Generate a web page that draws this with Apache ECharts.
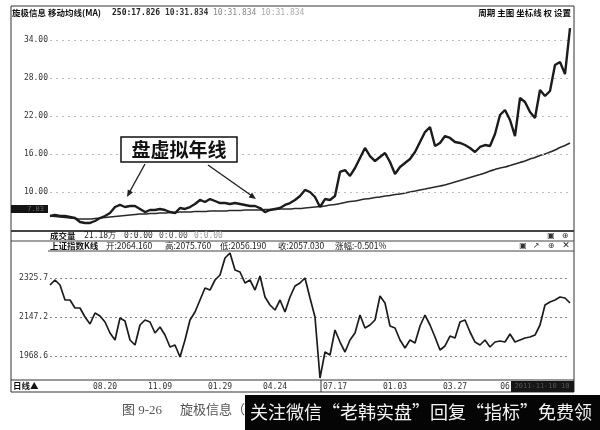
<!DOCTYPE html>
<html><head><meta charset="utf-8">
<script src="https://cdn.jsdelivr.net/npm/echarts@6/dist/echarts.min.js"></script>
<style>html,body{margin:0;padding:0;background:#fff}#c{width:600px;height:430px}</style>
</head><body><div id="c"></div>
<script>
// 旋极信息 日线收盘价
const priceValues = [6.21,6.37,6.21,6.21,6.05,5.89,5.26,5.11,5.11,5.42,
5.89,6.21,6.68,7.63,7.95,7.63,7.79,7.79,7.32,6.84,
7.16,7.16,7.32,7.16,6.84,6.68,7.47,7.32,7.63,8.11,
8.74,8.42,8.89,8.58,8.26,8.26,8.11,8.26,8.11,7.95,
7.79,7.79,7.47,6.84,7.16,7.32,7.47,7.95,8.26,8.74,
9.37,10.32,10.00,9.21,7.63,8.89,8.74,9.37,13.16,13.47,
12.53,13.79,15.37,16.95,15.68,14.89,15.53,16.16,14.74,12.84,
13.95,14.58,15.21,16.32,17.89,19.47,20.26,17.26,17.74,18.84,
18.53,17.89,17.74,17.42,16.95,16.32,17.11,17.42,17.26,19.16,
22.16,22.95,21.37,18.84,24.84,24.21,22.63,21.68,26.11,25.16,
25.95,30.05,30.53,28.63,35.89];
// 250日均线（虚拟年线，读图估计）
const ma250Values = [6.21,6.13,6.05,5.97,5.89,5.82,5.74,5.74,5.74,5.82,
5.89,5.97,6.05,6.13,6.21,6.29,6.37,6.45,6.53,6.53,
6.61,6.61,6.68,6.68,6.76,6.76,6.84,6.84,6.84,6.92,
6.92,6.92,7.00,7.00,7.00,7.00,7.08,7.08,7.08,7.16,
7.16,7.16,7.16,7.24,7.24,7.24,7.32,7.32,7.32,7.39,
7.39,7.47,7.55,7.63,7.71,7.79,7.95,8.03,8.18,8.34,
8.50,8.58,8.74,8.89,8.97,9.13,9.21,9.37,9.45,9.61,
9.68,9.84,10.00,10.16,10.32,10.47,10.63,10.79,10.95,11.11,
11.34,11.58,11.82,12.05,12.29,12.53,12.76,13.00,13.32,13.55,
13.79,13.95,14.18,14.42,14.66,14.89,15.21,15.45,15.76,16.00,
16.32,16.63,17.03,17.34,17.74];
// 上证指数
const indexValues = [2294.9,2317.9,2294.9,2226.0,2226.0,2189.2,2189.2,2147.8,2115.7,2166.2,
2152.4,2124.8,2074.3,2042.1,2143.2,2129.4,2042.1,2019.2,2111.1,2134.0,
2124.8,2074.3,2101.9,2065.1,2010.0,2019.2,1964.0,2042.1,2134.0,2170.8,
2226.0,2281.1,2271.9,2317.9,2340.9,2419.0,2442.0,2363.8,2354.7,2304.1,
2317.9,2271.9,2336.3,2239.8,2203.0,2180.0,2226.0,2170.8,2239.8,2290.3,
2304.1,2327.1,2235.2,2147.8,1867.5,1987.0,1973.2,2088.1,2032.9,1987.0,
2042.1,2074.3,2157.0,2097.3,2111.1,2134.0,2244.3,2212.2,2106.5,2097.3,
2042.1,2005.4,2042.1,2028.4,2106.5,2157.0,2111.1,2055.9,1996.2,2014.6,
2060.5,2051.3,2124.8,2134.0,2078.9,2032.9,2019.2,2042.1,2010.0,2032.9,
2037.5,2032.9,2069.7,2032.9,2042.1,2051.3,2055.9,2065.1,2111.1,2203.0,
2216.8,2226.0,2239.8,2235.2,2212.2];
const xTickLabels = ['08.20','11.09','01.29','04.24','07.17','01.03','03.27','06'];
const xTickIndex = [11,22,34,45,57,69,81,91];
const priceTicks = [34,28,22,16,10];
const priceTickLabels = ['34.00','28.00','22.00','16.00','10.00'];
const indexTicks = [2325.7,2147.2,1968.6];
const indexTickLabels = ['2325.7','2147.2','1968.6'];
const categories = priceValues.map((_, i) => String(i));

const chart = echarts.init(document.getElementById('c'), null, {renderer:'canvas'});
const mono = '"DejaVu Sans Mono", monospace';
const cjk = '"Noto Sans CJK SC", sans-serif';
function T(text, x, y, font, fill, align, z) {
  return {type:'text', z: z||50, style:{text, x, y, font, fill: fill||'#222',
    textAlign: align||'left', align: align||'left', textVerticalAlign:'middle', verticalAlign:'middle'}};
}
function L(x1,y1,x2,y2,w,c){
  return {type:'line', z:40, shape:{x1,y1,x2,y2}, style:{stroke:c||'#333', lineWidth:w||1}};
}
function gridMark(ticks, labels, color, dash){
  return {silent:true, symbol:['none','none'], animation:false,
    lineStyle:{type:dash, color, width:1},
    label:{position:'start', fontSize:8, fontFamily:mono, color:'#333', distance:2},
    emphasis:{disabled:true},
    data: ticks.map((v,k)=>({yAxis:v, label:{formatter:labels[k]}}))};
}
const option = {
  animation:false,
  backgroundColor:'#fff',
  grid:[{left:50, top:20, width:520, height:210},{left:50, top:250, width:520, height:130}],
  xAxis:[
    {gridIndex:0, type:'category', data:categories, boundaryGap:false, show:false},
    {gridIndex:1, type:'category', data:categories, boundaryGap:false,
     axisLine:{show:false}, axisTick:{show:false}, splitLine:{show:false},
     axisLabel:{interval:(i)=>xTickIndex.includes(i), formatter:(v)=>xTickLabels[xTickIndex.indexOf(+v)],
       fontSize:8, fontFamily:mono, color:'#333', margin:3}}
  ],
  yAxis:[
    {gridIndex:0, type:'value', min:4, max:37.16, show:false, splitLine:{show:false}},
    {gridIndex:1, type:'value', min:1858.3, max:2455.8, show:false, splitLine:{show:false}}
  ],
  series:[
    {type:'line', xAxisIndex:0, yAxisIndex:0, data:priceValues, symbol:'none',
     lineStyle:{width:2.4, color:'#1c1c1c'}, z:5,
     markLine:gridMark(priceTicks, priceTickLabels, '#bdbdbd', [2,4])},
    {type:'line', xAxisIndex:0, yAxisIndex:0, data:ma250Values, symbol:'none', smooth:true,
     lineStyle:{width:1.6, color:'#2a2a2a'}, z:4},
    {type:'line', xAxisIndex:1, yAxisIndex:1, data:indexValues, symbol:'none',
     lineStyle:{width:1.7, color:'#1c1c1c'}, z:5,
     markLine:gridMark(indexTicks, indexTickLabels, '#888', [2,3])}
  ],
  graphic:[
    {type:'rect', z:40, shape:{x:11, y:6, width:563, height:386}, style:{fill:'none', stroke:'#333', lineWidth:1}},
    L(11,231,574,231,2,'#444'),
    L(11,241,574,241,1,'#444'),
    L(48,251,574,251,1,'#444'),
    L(11,380,574,380,1,'#333'),
    L(321,380,321,392,1,'#333'),
    // title row
    T('旋极信息 移动均线(MA)', 12, 13, 'bold 8.5px '+cjk, '#111'),
    T('250:17.826', 112, 13, 'bold 8px '+mono, '#222'),
    T('10:31.834', 165, 13, 'bold 8px '+mono, '#333'),
    T('10:31.834', 213, 13, '8px '+mono, '#888'),
    T('10:31.834', 261, 13, '8px '+mono, '#aaa'),
    T('周期 主图 坐标线 权 设置', 571, 13, 'bold 8.5px '+cjk, '#111', 'right'),
    // left price box
    {type:'rect', z:45, shape:{x:11, y:205, width:37, height:8}, style:{fill:'#141414'}},
    T('7.03', 44, 209, '7px '+mono, '#666', 'right', 46),
    // volume row
    T('成交量', 50, 236, 'bold 8.5px '+cjk, '#222'),
    T('21.18万', 84, 236, '8px '+mono, '#222'),
    T('0:0.00', 124, 236, '8px '+mono, '#333'),
    T('0:0.00', 159, 236, '8px '+mono, '#555'),
    T('0:0.00', 194, 236, '8px '+mono, '#999'),
    T('▣', 551, 236, '8px "DejaVu Sans"', '#333', 'center'),
    T('⊕', 565, 236, '8px "DejaVu Sans"', '#333', 'center'),
    // index header
    T('上证指数K线', 50, 246, 'bold 8.5px '+cjk, '#111'),
    T('开:2064.160', 106, 246, '8.5px '+cjk, '#222'),
    T('高:2075.760', 165, 246, '8.5px '+cjk, '#222'),
    T('低:2056.190', 220, 246, '8.5px '+cjk, '#222'),
    T('收:2057.030', 278, 246, '8.5px '+cjk, '#222'),
    T('涨幅:-0.501%', 335, 246, '8.5px '+cjk, '#222'),
    T('▣', 523, 246, '8px "DejaVu Sans"', '#333', 'center'),
    T('↗', 536, 246, '8px "DejaVu Sans"', '#333', 'center'),
    T('⊕', 551, 246, '8px "DejaVu Sans"', '#333', 'center'),
    T('✕', 566, 246, 'bold 9px "DejaVu Sans"', '#222', 'center'),
    // x axis strip
    T('日线▲', 13, 386, 'bold 8.5px '+cjk, '#111'),
    {type:'rect', z:45, shape:{x:511, y:381, width:63, height:11}, style:{fill:'#161616'}},
    T('2011-11-10 10', 542, 386, '7px '+mono, '#555', 'center', 46),
    // annotation box & arrows
    {type:'rect', z:60, shape:{x:121, y:137, width:116, height:25}, style:{fill:'#fff', stroke:'#111', lineWidth:1.5}},
    T('盘虚拟年线', 179, 150, 'bold 19px '+cjk, '#111', 'center', 61),
    L(145,164,129,193,1.4,'#222'),
    {type:'polygon', z:61, shape:{points:[[127,197],[133.0,192.3],[127.8,189.5]]}, style:{fill:'#222'}},
    L(208,165,252,196,1.4,'#222'),
    {type:'polygon', z:61, shape:{points:[[256,199],[248.6,197.4],[252.0,192.6]]}, style:{fill:'#222'}},
    // caption
    T('图 9-26', 122, 411, '13px "Liberation Serif", '+cjk, '#555'),
    T('旋极信息（300', 180, 411, '13px "Liberation Serif", '+cjk, '#555'),
    {type:'rect', z:70, shape:{x:245, y:395, width:355, height:35}, style:{fill:'#050505'}},
    T('关注微信“老韩实盘”回复“指标”免费领', 250, 412, '18px '+cjk, '#f2f2f2', 'left', 71)
  ]
};
chart.setOption(option);
</script>
</body></html>
